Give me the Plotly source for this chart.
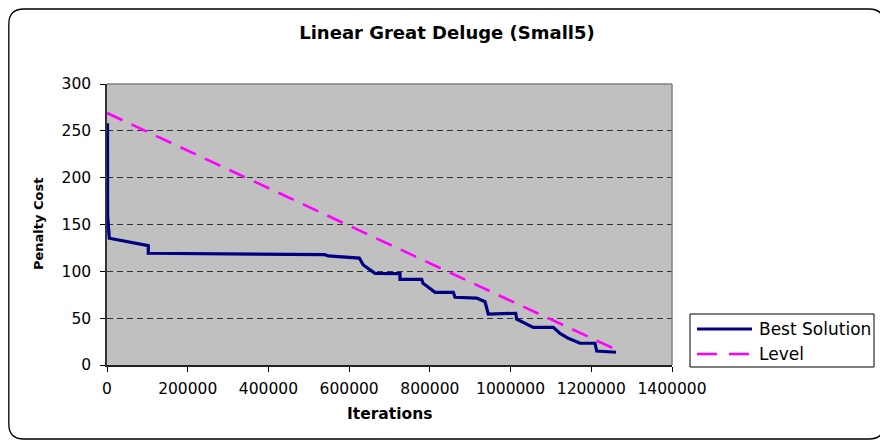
import plotly.graph_objects as go

# ---- data ----
best_x = [1200, 1500, 5700, 102300, 102300, 540000, 548000, 625200, 635000, 664100,
          726000, 726000, 779800, 783000, 792200, 812800, 858100, 862300, 916100,
          936700, 944800, 1012700, 1015200, 1056300, 1105900, 1122500, 1143100,
          1172000, 1209200, 1213400, 1261200]
best_y = [258, 160, 135.3, 127.4, 119.3, 117.8, 116.4, 114.2, 106.8, 97.9,
          97.5, 91.5, 91.5, 87.2, 84.3, 77.6, 77.6, 72.3, 71.5,
          67.6, 54.4, 55.2, 48.8, 40.2, 40.2, 33.8, 28.5,
          23.2, 23.2, 14.9, 13.6]
level_x = [0, 552600, 829300, 990400, 1176200, 1261200]
level_y = [269, 158, 102, 70.5, 33.5, 16.5]

x_ticks = [0, 200000, 400000, 600000, 800000, 1000000, 1200000, 1400000]
y_ticks = [0, 50, 100, 150, 200, 250, 300]

OFF = 8                      # page offset of the figure (body margin)
W, H = 888 - OFF, 446 - OFF
# plot area in page pixels
L, R, T, B = 107, 672, 84, 365


def px(xp, yp):
    return (xp - L) / (R - L), (B - yp) / (B - T)


FONT = "DejaVu Sans"

fig = go.Figure()
fig.add_trace(go.Scatter(x=best_x, y=best_y, mode="lines", name="Best Solution",
                         line=dict(color="#000080", width=3.2), showlegend=False))
fig.add_trace(go.Scatter(x=level_x, y=level_y, mode="lines", name="Level",
                         line=dict(color="#FF00FF", width=2.6, dash="17px,10px"),
                         showlegend=False))

shapes = []
x0, y0 = px(L, T)
x1, y1 = px(R, B)
shapes.append(dict(type="line", xref="paper", yref="paper", x0=x0, y0=y0, x1=x1, y1=y0,
                   line=dict(color="#808080", width=1.5), layer="above"))
shapes.append(dict(type="line", xref="paper", yref="paper", x0=x1, y0=y0, x1=x1, y1=y1,
                   line=dict(color="#808080", width=1.5), layer="above"))


def P(a, b):
    u, v = px(a, b)
    return f"{u:.5f},{v:.5f}"


# outer rounded border (page pixels)
bl, bt, br, bb, rad = 8.8, 9, 884, 439, 15
path = (f"M {P(bl+rad, bt)} L {P(br-rad, bt)} Q {P(br, bt)} {P(br, bt+rad)} "
        f"L {P(br, bb-rad)} Q {P(br, bb)} {P(br-rad, bb)} "
        f"L {P(bl+rad, bb)} Q {P(bl, bb)} {P(bl, bb-rad)} "
        f"L {P(bl, bt+rad)} Q {P(bl, bt)} {P(bl+rad, bt)} Z")
shapes.append(dict(type="path", xref="paper", yref="paper", path=path,
                   line=dict(color="#000000", width=1.3)))

# legend box and samples
lx0, ly0 = px(690, 314)
lx1, ly1 = px(874, 367)
shapes.append(dict(type="rect", xref="paper", yref="paper", x0=lx0, y0=ly0, x1=lx1, y1=ly1,
                   line=dict(color="#000000", width=1), fillcolor="white"))
a0, ya = px(697, 329)
a1, _ = px(752, 329)
shapes.append(dict(type="line", xref="paper", yref="paper", x0=a0, y0=ya, x1=a1, y1=ya,
                   line=dict(color="#000080", width=3.2)))
a0, yb = px(697, 354)
a1, _ = px(750, 354)
shapes.append(dict(type="line", xref="paper", yref="paper", x0=a0, y0=yb, x1=a1, y1=yb,
                   line=dict(color="#FF00FF", width=2.6, dash="20px,12px")))

annotations = []
tx, _ = px(757, 0)
annotations.append(dict(xref="paper", yref="paper", x=tx, y=ya, text="Best Solution",
                        showarrow=False, xanchor="left", yanchor="middle",
                        font=dict(family=FONT, size=17, color="black")))
annotations.append(dict(xref="paper", yref="paper", x=tx, y=yb, text="Level",
                        showarrow=False, xanchor="left", yanchor="middle",
                        font=dict(family=FONT, size=17, color="black")))
ax, ay = px(389.5, 414)
annotations.append(dict(xref="paper", yref="paper", x=ax, y=ay, text="Iterations",
                        showarrow=False, xanchor="center", yanchor="middle",
                        font=dict(family=FONT, size=15.5, color="black", weight="bold")))
ax, ay = px(38.5, 224.5)
annotations.append(dict(xref="paper", yref="paper", x=ax, y=ay, text="Penalty Cost",
                        showarrow=False, xanchor="center", yanchor="middle", textangle=-90,
                        font=dict(family=FONT, size=13, color="black", weight="bold")))

fig.update_layout(
    width=W, height=H,
    margin=dict(l=L - OFF, r=888 - R, t=T - OFF, b=446 - B, pad=0),
    paper_bgcolor="white", plot_bgcolor="#C0C0C0",
    title=dict(text="Linear Great Deluge (Small5)", x=(447 - OFF) / W, y=1 - (33 - OFF) / H,
               xref="container", yref="container", xanchor="center", yanchor="middle",
               font=dict(family=FONT, size=18, color="black", weight="bold")),
    shapes=shapes, annotations=annotations,
    showlegend=False,
)
fig.update_xaxes(range=[0, 1400000], tickvals=x_ticks, ticktext=[str(v) for v in x_ticks],
                 ticks="outside", ticklen=5, tickcolor="#000", tickwidth=1,
                 showline=True, linecolor="#222", linewidth=1.5, showgrid=False,
                 zeroline=False, tickfont=dict(family=FONT, size=15.5, color="black"),
                 ticklabelstandoff=4, fixedrange=True)
fig.update_yaxes(range=[0, 300], tickvals=y_ticks, ticktext=[str(v) for v in y_ticks],
                 ticks="outside", ticklen=5, tickcolor="#000", tickwidth=1,
                 showline=True, linecolor="#333", linewidth=1.5,
                 showgrid=True, gridcolor="#333", gridwidth=1, griddash="6px,4px",
                 zeroline=False, tickfont=dict(family=FONT, size=15.5, color="black"),
                 ticklabelstandoff=6, fixedrange=True)

fig.write_html("out.html")
